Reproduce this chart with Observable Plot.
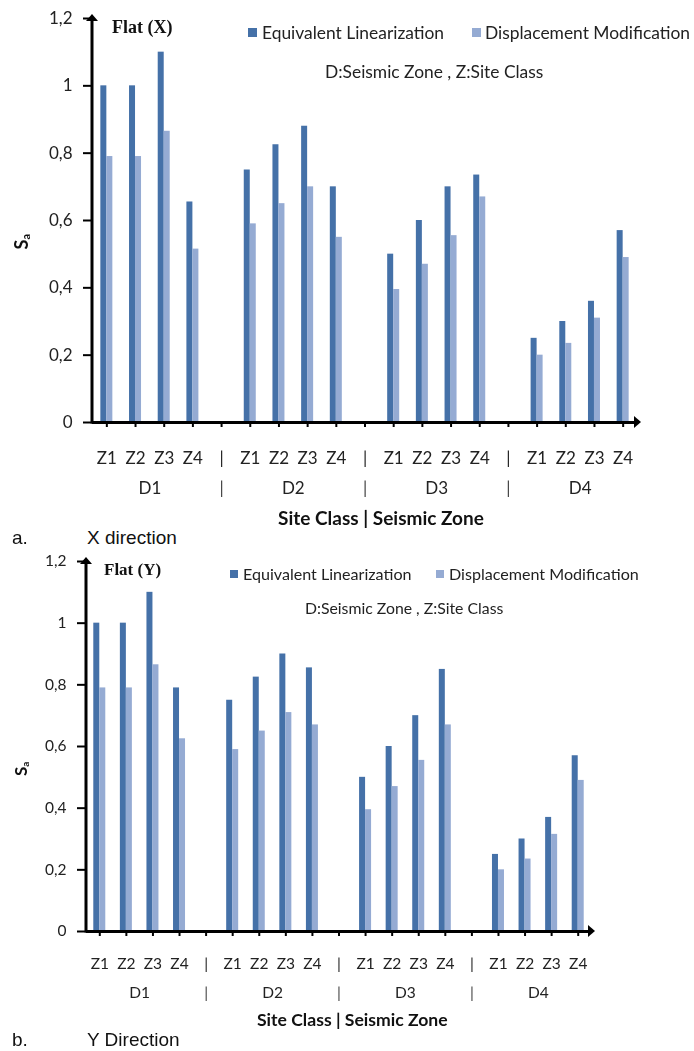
<!DOCTYPE html>
<html><head><meta charset="utf-8">
<script src="https://cdn.jsdelivr.net/npm/d3@7"></script>
<script src="https://cdn.jsdelivr.net/npm/@observablehq/plot@0.6"></script>
<style>
body{margin:0;background:#fff;}
#page{position:relative;width:694px;height:1051px;overflow:hidden;font-family:Lato,sans-serif;color:#222;background:#fff;}
#page svg{position:absolute;left:0;background:transparent !important;will-change:transform;-webkit-font-smoothing:antialiased;}
.t{position:absolute;white-space:nowrap;line-height:1;}
.title{font-family:"Liberation Serif",serif;font-weight:bold;color:#111;}
.sq{position:absolute;}
.cap{font-family:"Liberation Sans",Arial,sans-serif;color:#111;}
.axt{font-weight:bold;color:#111;}
.sa{font-weight:bold;transform:rotate(-90deg);transform-origin:center;color:#111;}
.sa sub{font-size:60%;vertical-align:-0.15em;}
</style></head><body><div id="page"></div>
<script>
// ---- data ----
const zones = ["D1", "D2", "D3", "D4"];
const siteClasses = ["Z1", "Z2", "Z3", "Z4"];
const seriesNames = ["Equivalent Linearization", "Displacement Modification"];
const seriesColors = ["#4571a8", "#95abd3"];
const yTicks = [0, 0.2, 0.4, 0.6, 0.8, 1, 1.2];
const titles = ["Flat (X)", "Flat (Y)"];
const captionLetters = ["a.", "b."];
const captions = ["X direction", "Y Direction"];
const noteText = "D:Seismic Zone , Z:Site Class";
const axisTitle = "Site Class | Seismic Zone";
// X direction (order: D1 Z1..Z4, D2 Z1..Z4, ...)
const xEL = [1.0, 1.0, 1.10, 0.655, 0.75, 0.825, 0.88, 0.70, 0.50, 0.60, 0.70, 0.735, 0.25, 0.30, 0.36, 0.57];
const xDM = [0.79, 0.79, 0.865, 0.515, 0.59, 0.65, 0.70, 0.55, 0.395, 0.47, 0.555, 0.67, 0.20, 0.235, 0.31, 0.49];
// Y direction
const yEL = [1.0, 1.0, 1.10, 0.79, 0.75, 0.825, 0.90, 0.855, 0.50, 0.60, 0.70, 0.85, 0.25, 0.30, 0.37, 0.57];
const yDM = [0.79, 0.79, 0.865, 0.625, 0.59, 0.65, 0.71, 0.67, 0.395, 0.47, 0.555, 0.67, 0.20, 0.235, 0.315, 0.49];

// ---- build slots ----
const slots = [];
const gaps = [];
zones.forEach((d, i) => {
  siteClasses.forEach(z => slots.push(`${d}-${z}`));
  if (i < zones.length - 1) { slots.push(`gap${i}`); gaps.push(`gap${i}`); }
});
const dRows = zones.map(d => ({slot: `${d}-Z2`, label: d}));

function rowsFor(el, dm) {
  const rows = [];
  zones.forEach((d, i) => siteClasses.forEach((z, j) => {
    const k = i * 4 + j;
    rows.push({slot: `${d}-${z}`, series: seriesNames[0], value: el[k]});
    rows.push({slot: `${d}-${z}`, series: seriesNames[1], value: dm[k]});
  }));
  return rows;
}

const page = document.getElementById("page");

function makeChart(cfg) {
  const {el, dm, top, height, mt, mb, ml, mr, fs, barW, dRowDy, tickPad} = cfg;
  const width = 694;
  const step = (width - ml - mr) / slots.length;
  const rows = rowsFor(el, dm);
  const plot = Plot.plot({
    width, height,
    marginTop: mt, marginBottom: mb, marginLeft: ml, marginRight: mr,
    style: {fontFamily: "Lato, sans-serif", fontSize: fs + "px", color: "#222", background: "transparent", overflow: "visible"},
    x: {domain: slots, padding: 0, round: false},
    y: {domain: [0, 1.2]},
    color: {domain: seriesNames, range: seriesColors},
    marks: [
      Plot.barY(rows.filter(r => r.series === seriesNames[0]), {
        x: "slot", y: "value", fill: "series",
        insetLeft: step / 2 - barW, insetRight: step / 2
      }),
      Plot.barY(rows.filter(r => r.series === seriesNames[1]), {
        x: "slot", y: "value", fill: "series",
        insetLeft: step / 2, insetRight: step / 2 - barW
      }),
      Plot.ruleY([0], {stroke: "black", strokeWidth: 3}),
      Plot.axisY(yTicks, {
        tickSize: 9, tickPadding: 11, stroke: "black", strokeWidth: 2, fill: "#222",
        tickFormat: d => String(d).replace(".", ","), label: null
      }),
      Plot.axisX(slots, {
        tickSize: 5, tickPadding: tickPad, stroke: "black", strokeWidth: 2, fill: "#222",
        tickFormat: s => s.startsWith("gap") ? "|" : s.split("-")[1], label: null
      }),
      Plot.text(dRows, {x: "slot", text: "label", frameAnchor: "bottom", dx: step / 2, dy: dRowDy, fill: "#222"}),
      Plot.text(gaps, {x: d => d, text: () => "|", frameAnchor: "bottom", dy: dRowDy, fill: "#444"})
    ]
  });
  plot.style.top = top + "px";
  // axis line and arrow heads
  const svg = d3.select(plot);
  const ys = plot.scale("y");
  const y0 = ys.apply(0), y1 = ys.apply(1.2);
  svg.append("line").attr("x1", ml).attr("x2", ml).attr("y1", y0 + 1.5).attr("y2", y1)
    .attr("stroke", "black").attr("stroke-width", 3);
  svg.append("path").attr("d", `M${ml},${y1 - 4} l-6,7 l12,0 z`).attr("fill", "black");
  const xr = width - mr;
  svg.append("path").attr("d", `M${xr + 4},${y0} l-7,-6 l0,12 z`).attr("fill", "black");
  page.appendChild(plot);
}

function addText(cls, html, left, top, fs) {
  const d = document.createElement("div");
  d.className = "t " + cls;
  d.innerHTML = html;
  d.style.left = left + "px";
  d.style.top = top + "px";
  d.style.fontSize = fs + "px";
  page.appendChild(d);
  return d;
}
function addSq(color, left, top, s) {
  const d = document.createElement("div");
  d.className = "sq";
  d.style.cssText = `left:${left}px;top:${top}px;width:${s}px;height:${s}px;background:${color}`;
  page.appendChild(d);
}

// ---- chart a ----
makeChart({el: xEL, dm: xDM, top: 0, height: 510, mt: 18, mb: 88, ml: 92, mr: 57, fs: 17, barW: 6, dRowDy: 71, tickPad: 24});
addText("title", titles[0], 112, 18, 18);
addSq(seriesColors[0], 248, 28, 9);
addText("", seriesNames[0], 262, 24, 17.4);
addSq(seriesColors[1], 472, 28, 9);
addText("", seriesNames[1], 485, 24, 17.4);
addText("", noteText, 325, 63, 17.4);
addText("sa", "S<sub>a</sub>", 14, 232, 18);
addText("axt", axisTitle, 278, 508, 19);
addText("cap", captionLetters[0], 12, 528, 19);
addText("cap", captions[0], 87, 528, 19);

// ---- chart b ----
makeChart({el: yEL, dm: yDM, top: 540, height: 480, mt: 21, mb: 89, ml: 86, mr: 103, fs: 15.5, barW: 6, dRowDy: 66, tickPad: 21});
addText("title", titles[1], 104, 561, 17);
addSq(seriesColors[0], 230, 570, 8);
addText("", seriesNames[0], 243, 566, 16.1);
addSq(seriesColors[1], 436, 570, 8);
addText("", seriesNames[1], 449, 566, 16.1);
addText("", noteText, 305, 600, 15.8);
addText("sa", "S<sub>a</sub>", 14, 760, 17);
addText("axt", axisTitle, 257, 1011, 17.6);
addText("cap", captionLetters[1], 12, 1030, 19);
addText("cap", captions[1], 87, 1030, 19);
</script></body></html>
